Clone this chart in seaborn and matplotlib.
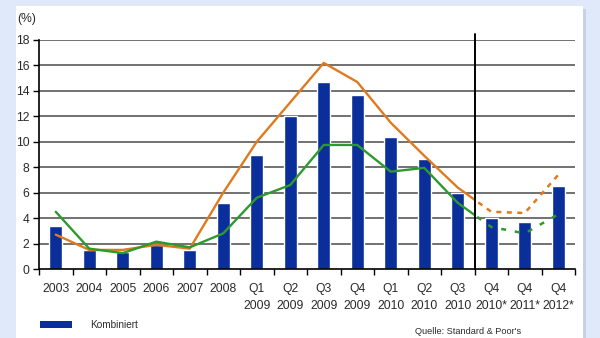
import matplotlib
matplotlib.use("Agg")
import matplotlib.pyplot as plt
import seaborn as sns
import pandas as pd
from matplotlib.patches import Rectangle, Patch

categories = ["2003", "2004", "2005", "2006", "2007", "2008",
              "Q1\n2009", "Q2\n2009", "Q3\n2009", "Q4\n2009",
              "Q1\n2010", "Q2\n2010", "Q3\n2010",
              "Q4\n2010*", "Q4\n2011*", "Q4\n2012*"]
kombiniert = [3.4, 1.5, 1.3, 1.9, 1.5, 5.2, 9.0, 12.0, 14.7, 13.7,
              10.4, 8.65, 6.0, 4.0, 3.7, 6.5]
orange_series = [2.7, 1.5, 1.5, 1.9, 1.6, 6.0, 10.0, 13.1, 16.2, 14.7,
                 11.5, 8.9, 6.4, 4.5, 4.4, 7.4]
green_series = [4.5, 1.6, 1.25, 2.15, 1.7, 2.8, 5.6, 6.6, 9.75, 9.75,
                7.65, 7.95, 5.2, 3.3, 2.8, 4.3]
yticks = [0, 2, 4, 6, 8, 10, 12, 14, 16, 18]
forecast_start = 12.5

sns.set_theme(style="white")
plt.rcParams['font.family'] = ['Liberation Sans', 'DejaVu Sans']

BG = "#dfe9f9"
BAR = "#0a2f9a"
ORANGE = "#e07a1f"
GREEN = "#2e9a2e"
TXT = "#2a2a2a"

fig = plt.figure(figsize=(6, 3.38), dpi=100, facecolor=BG)
# white panel
fig.patches.append(Rectangle((16/600, 0), (583-16)/600, 1-6/338,
                             transform=fig.transFigure, facecolor="white",
                             edgecolor="none", zorder=-2))
fig.patches.append(Rectangle((583/600, 0), 3/600, 1-9/338,
                             transform=fig.transFigure, facecolor="#c8d2e2",
                             edgecolor="none", zorder=-2))

ax = fig.add_axes([39/600, 1-269/338, (575-39)/600, (269-40)/338])
ax.set_facecolor("none")
ax.set_zorder(2)

df = pd.DataFrame({"cat": categories, "val": kombiniert})
sns.barplot(data=df, x="cat", y="val", color=BAR, width=0.4, saturation=1,
            ax=ax, zorder=3)

xs = list(range(len(categories)))
clip_solid = Rectangle((-0.5, -5), forecast_start + 0.5, 40, transform=ax.transData)
clip_dash = Rectangle((forecast_start, -5), 10, 40, transform=ax.transData)

for series, col, dash in [(orange_series, ORANGE, (2, 2.2)),
                          (green_series, GREEN, (2, 3.5))]:
    l1, = ax.plot(xs, series, color=col, lw=1.7, zorder=4, solid_joinstyle="round")
    l1.set_clip_path(clip_solid)
    l2, = ax.plot(xs, series, color=col, lw=1.8, zorder=4, dashes=dash)
    l2.set_clip_path(clip_dash)

ax.set_xlim(-0.5, len(categories) - 0.5)
ax.set_ylim(0, 18)
ax.set_yticks(yticks)
ax.set_yticklabels([str(t) for t in yticks], color=TXT, fontsize=8.7)
for t in yticks[1:]:
    ax.axhline(t, color="#4a4a4a", lw=1.1, zorder=1)

ax.axvline(forecast_start, ymin=0, ymax=1.027, color="black", lw=1.4,
           clip_on=False, zorder=5)

ax.set_xticks(xs)
ax.set_xticklabels(categories, color=TXT, fontsize=8.7, linespacing=1.55)
ax.set_xticks([i - 0.5 for i in range(len(categories) + 1)], minor=True)
ax.tick_params(axis="x", which="major", length=0, pad=10)
ax.tick_params(axis="x", which="minor", length=4, width=1, color="black",
               direction="out", bottom=True)
ax.tick_params(axis="y", length=4, width=1, color="black", direction="out",
               left=True, pad=3)
ax.set_xlabel("")
ax.set_ylabel("")

for s in ["top", "right"]:
    ax.spines[s].set_visible(False)
for s in ["left", "bottom"]:
    ax.spines[s].set_color("black")
    ax.spines[s].set_linewidth(1.2)
    ax.spines[s].set_zorder(6)

fig.text(17/600, 1-19/338, "(%)", fontsize=8.7, color=TXT, va="center", ha="left")

leg = fig.legend(handles=[Patch(facecolor=BAR, edgecolor="none", label="Kombiniert")],
                 loc="upper left", bbox_to_anchor=(31/600, 1-311/338),
                 frameon=False, fontsize=7.2, handlelength=3.2, handleheight=0.7,
                 handletextpad=1.8, labelcolor=TXT)

fig.text(415/600, 1-331/338, "Quelle: Standard & Poor's", fontsize=6.6,
         color=TXT, va="center", ha="left")

fig.savefig("out.png", dpi=100, facecolor=BG)
